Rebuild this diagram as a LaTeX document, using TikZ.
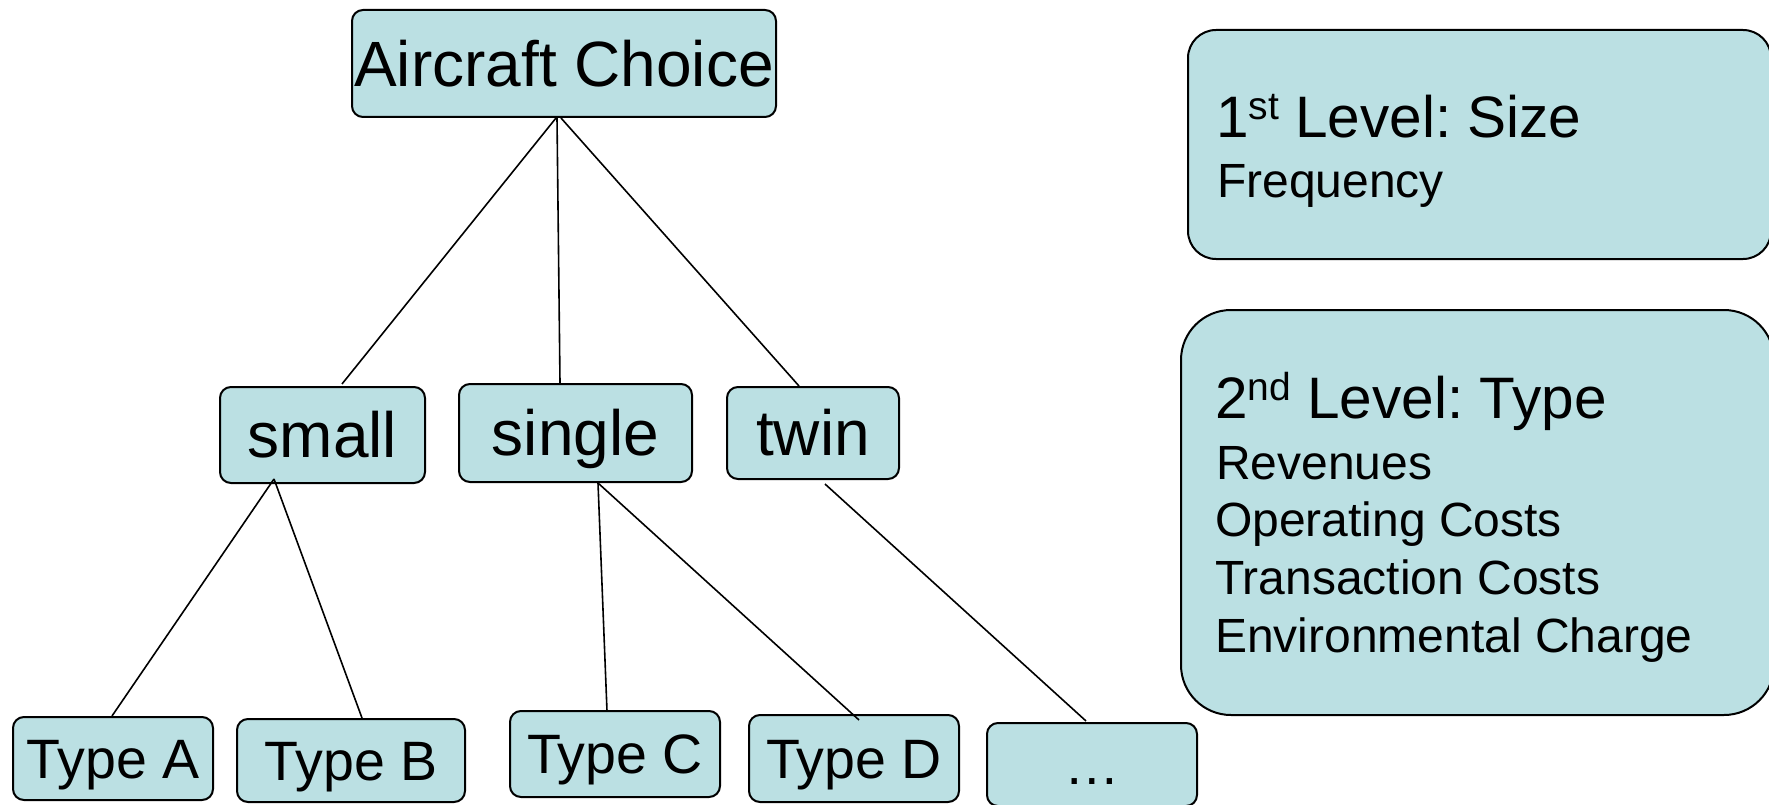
\documentclass[tikz,border=0pt]{standalone}
\usepackage{fontspec}
\setmainfont{Liberation Sans}
\definecolor{boxfill}{RGB}{187,224,227}
\begin{document}
\frenchspacing
\begin{tikzpicture}[x=1pt,y=-1pt,
  treebox/.style={draw=black, line width=2pt, fill=boxfill, rounded corners=11pt, inner sep=0pt},
  bigfont/.style={font=\fontsize{64}{64}\selectfont, text height=45.8pt, text depth=0pt},
  smallfont/.style={font=\fontsize{55.5}{55.5}\selectfont, text height=39.7pt, text depth=0pt},
  infobox/.style={draw=black, line width=2pt, fill=boxfill, inner sep=0pt},
  titletext/.style={anchor=base west, inner sep=0pt, font=\fontsize{58.5}{58.5}\selectfont},
  bodytext/.style={anchor=base west, inner sep=0pt, font=\fontsize{48}{48}\selectfont},
  conn/.style={draw=black, line width=1.6pt}
]
\clip (0,0) rectangle (1769,805);
\fill[white] (0,0) rectangle (1769,805);

% tree nodes
\node[treebox, bigfont, minimum width=424pt, minimum height=107pt] (ac) at (564,63.5) {Aircraft Choice};
\node[treebox, bigfont, minimum width=205pt, minimum height=96pt] (small) at (322.5,435) {small};
\node[treebox, bigfont, minimum width=233pt, minimum height=98pt] (single) at (575.5,433) {single};
\node[treebox, bigfont, minimum width=172pt, minimum height=92pt] (twin) at (813,433) {twin};

\node[treebox, smallfont, minimum width=200pt, minimum height=83pt] (ta) at (113,758.5) {Type A};
\node[treebox, smallfont, minimum width=228pt, minimum height=83pt] (tb) at (351,760.5) {Type B};
\node[treebox, smallfont, minimum width=210pt, minimum height=86pt] (tc) at (615,754) {Type C};
\node[treebox, smallfont, minimum width=210pt, minimum height=87pt] (td) at (854,758.5) {Type D};
\node[treebox, smallfont, minimum width=210pt, minimum height=83pt] (more) at (1092,764.5) {…};

% connectors
\draw[conn] ([xshift=-8pt]ac.south) -- ([xshift=19.5pt,yshift=2pt]small.north);
\draw[conn] ([xshift=-7pt]ac.south) -- ([xshift=-15.5pt]single.north);
\draw[conn] ([xshift=-3pt]ac.south) -- ([xshift=-14pt]twin.north);
\draw[conn] ([xshift=-48.5pt,yshift=5pt]small.south) -- ([xshift=-1pt]ta.north);
\draw[conn] ([xshift=-48.5pt,yshift=5pt]small.south) -- ([xshift=11pt]tb.north);
\draw[conn] ([xshift=22.5pt]single.south) -- ([xshift=-8pt,yshift=-1pt]tc.north);
\draw[conn] ([xshift=22.5pt]single.south) -- ([xshift=5pt,yshift=-6pt]td.north);
\draw[conn] ([xshift=12pt,yshift=-4pt]twin.south) -- ([xshift=-6pt,yshift=1pt]more.north);

% info boxes
\node[infobox, rounded corners=28pt, minimum width=583pt, minimum height=229pt] (info1) at (1479.5,144.5) {};
\node[infobox, rounded corners=50pt, minimum width=593pt, minimum height=405pt] (info2) at (1477.5,512.5) {};

\node[titletext] (t1a) at (1216,138) {1\raisebox{18pt}{\fontsize{39}{39}\selectfont st} Level: Size};
\node[bodytext] (t1b) at (1217,197) {Frequency};

\node[titletext] (t2a) at (1215,418) {2\raisebox{18pt}{\fontsize{39}{39}\selectfont nd} Level: Type};
\node[bodytext] (t2b) at (1216,479.5) {Revenues};
\node[bodytext] (t2c) at (1215,536) {Operating Costs};
\node[bodytext] (t2d) at (1215,594) {Transaction Costs};
\node[bodytext] (t2e) at (1215,652) {Environmental Charge};
\end{tikzpicture}
\end{document}
